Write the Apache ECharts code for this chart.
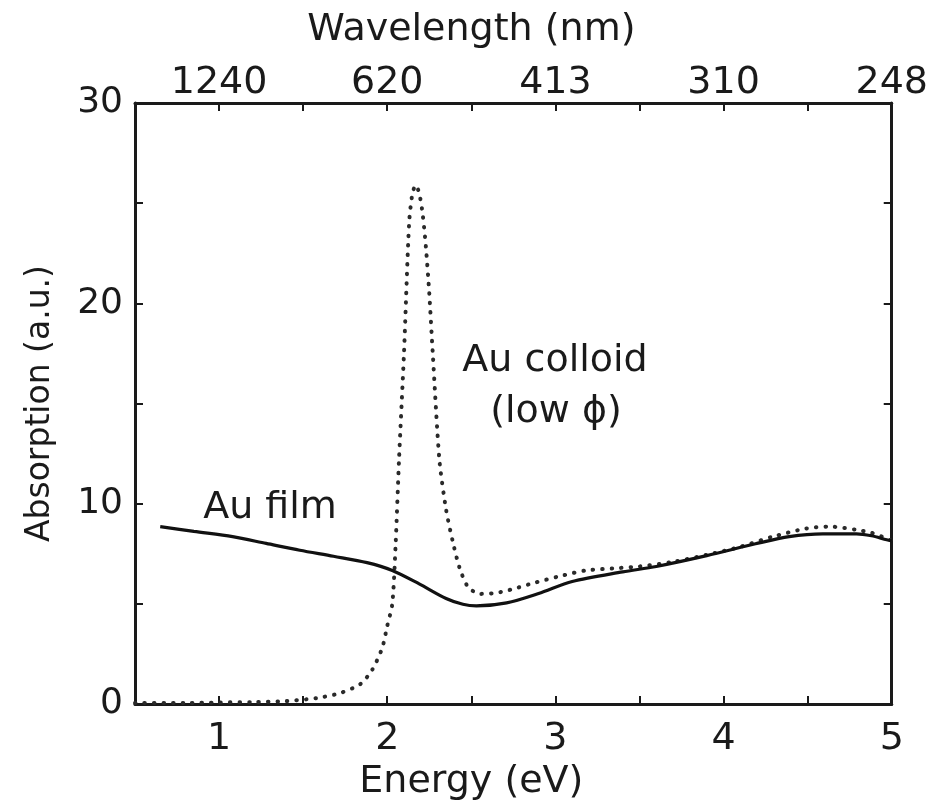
<!DOCTYPE html>
<html>
<head>
<meta charset="utf-8">
<script src="https://cdn.jsdelivr.net/npm/echarts@6/dist/echarts.min.js"></script>
<style>
html,body{margin:0;padding:0;background:#fff;}
#chart{width:931px;height:806px;}
</style>
</head>
<body>
<div id="chart"></div>
<script>
// Energy (eV) tick values with their wavelength (nm) labels on the top axis
var energyTicks = [1, 2, 3, 4, 5];
var wavelengthLabels = ['1240', '620', '413', '310', '248'];
var absorptionLabels = [0, 10, 20, 30];

// Au film (solid): [energy eV, absorption a.u.]
var auFilm = [
  [0.65, 8.86], [0.85, 8.62], [1.08, 8.36], [1.28, 8.02], [1.48, 7.68],
  [1.68, 7.38], [1.88, 7.06], [2.03, 6.67], [2.19, 6.0], [2.35, 5.27],
  [2.45, 4.98], [2.53, 4.9], [2.71, 5.05], [2.9, 5.52], [3.1, 6.12],
  [3.4, 6.6], [3.6, 6.87], [3.9, 7.41], [4.19, 8.0], [4.39, 8.36],
  [4.59, 8.5], [4.79, 8.5], [4.88, 8.4], [4.97, 8.2], [5.0, 8.15]
];

// Au colloid, low phi (dotted)
var auColloid = [
  [0.5, 0.05], [0.8, 0.05], [1.0, 0.08], [1.2, 0.1], [1.4, 0.15],
  [1.58, 0.3], [1.72, 0.55], [1.84, 1.0], [1.91, 1.7], [1.97, 2.8],
  [2.0, 3.9], [2.03, 5.0], [2.05, 8.0], [2.07, 12.2], [2.1, 17.6],
  [2.13, 24.0], [2.15, 25.5], [2.17, 25.9], [2.19, 25.5], [2.21, 24.5],
  [2.23, 22.8], [2.25, 20.5], [2.27, 17.6], [2.31, 12.2], [2.35, 9.7],
  [2.39, 8.1], [2.43, 6.8], [2.48, 5.85], [2.55, 5.5], [2.65, 5.55],
  [2.75, 5.75], [2.86, 6.02], [3.02, 6.37], [3.18, 6.67], [3.34, 6.77],
  [3.5, 6.87], [3.7, 7.1], [3.9, 7.45], [4.1, 7.85], [4.29, 8.35],
  [4.49, 8.76], [4.63, 8.86], [4.79, 8.7], [4.88, 8.55], [4.96, 8.3],
  [5.0, 8.15]
];

var FONT = 'DejaVu Sans';
var INK = '#1a1a1a';

var chart = echarts.init(document.getElementById('chart'), null, {renderer: 'canvas'});

function isTick(v) {
  return energyTicks.indexOf(Math.round(v * 1000) / 1000) >= 0;
}

var axisLine = {show: true, onZero: false, lineStyle: {color: INK, width: 3}};
var axisTick = {show: true, inside: true, length: 8, lineStyle: {color: INK, width: 2}};

chart.setOption({
  backgroundColor: '#ffffff',
  animation: false,
  grid: {left: 135, right: 38, top: 103, bottom: 100},
  xAxis: [{
    type: 'value', position: 'bottom', min: 0.5, max: 5, interval: 0.5,
    axisLine: axisLine, axisTick: axisTick, splitLine: {show: false},
    axisLabel: {
      margin: 16, color: INK, fontFamily: FONT, fontSize: 38,
      showMinLabel: true, showMaxLabel: true,
      formatter: function (v) { return isTick(v) ? String(Math.round(v)) : ''; }
    },
    name: 'Energy (eV)', nameLocation: 'middle', nameGap: 52,
    nameTextStyle: {color: INK, fontFamily: FONT, fontSize: 38, padding: [0, 84, 0, 0]}
  }, {
    type: 'value', position: 'top', min: 0.5, max: 5, interval: 0.5,
    axisLine: axisLine, axisTick: axisTick, splitLine: {show: false},
    axisLabel: {
      margin: 1, color: INK, fontFamily: FONT, fontSize: 38,
      showMinLabel: true, showMaxLabel: true,
      formatter: function (v) {
        var i = energyTicks.indexOf(Math.round(v * 1000) / 1000);
        return i >= 0 ? wavelengthLabels[i] : '';
      }
    },
    name: 'Wavelength (nm)', nameLocation: 'middle', nameGap: 54,
    nameTextStyle: {color: INK, fontFamily: FONT, fontSize: 38, padding: [0, 84, 0, 0]}
  }],
  yAxis: [{
    type: 'value', position: 'left', min: 0, max: 30, interval: 5,
    axisLine: axisLine, axisTick: axisTick, splitLine: {show: false},
    axisLabel: {
      margin: 12, color: INK, fontFamily: FONT, fontSize: 36,
      formatter: function (v) { return absorptionLabels.indexOf(v) >= 0 ? String(v) : ''; }
    },
    name: 'Absorption (a.u.)', nameLocation: 'middle', nameGap: 78,
    nameTextStyle: {color: INK, fontFamily: FONT, fontSize: 33}
  }, {
    type: 'value', position: 'right', min: 0, max: 30, interval: 5,
    axisLine: axisLine, axisTick: axisTick, splitLine: {show: false},
    axisLabel: {show: false}
  }],
  series: [{
    name: 'Au colloid (low ϕ)', type: 'line', data: auColloid,
    xAxisIndex: 0, yAxisIndex: 0, showSymbol: false, smooth: 0.25,
    lineStyle: {color: '#2a2a2a', width: 4, type: [0.5, 9], cap: 'round'},
    z: 2
  }, {
    name: 'Au film', type: 'line', data: auFilm,
    xAxisIndex: 0, yAxisIndex: 0, showSymbol: false, smooth: 0.3,
    lineStyle: {color: '#111', width: 3.2},
    z: 3
  }],
  graphic: [
    {type: 'text', x: 270, y: 508, style: {text: 'Au film', fill: INK, font: '38px "DejaVu Sans"', textAlign: 'center', textVerticalAlign: 'middle'}},
    {type: 'text', x: 555, y: 361, style: {text: 'Au colloid', fill: INK, font: '38px "DejaVu Sans"', textAlign: 'center', textVerticalAlign: 'middle'}},
    {type: 'text', x: 556, y: 412, style: {text: '(low ϕ)', fill: INK, font: '38px "DejaVu Sans"', textAlign: 'center', textVerticalAlign: 'middle'}}
  ]
});
</script>
</body>
</html>
